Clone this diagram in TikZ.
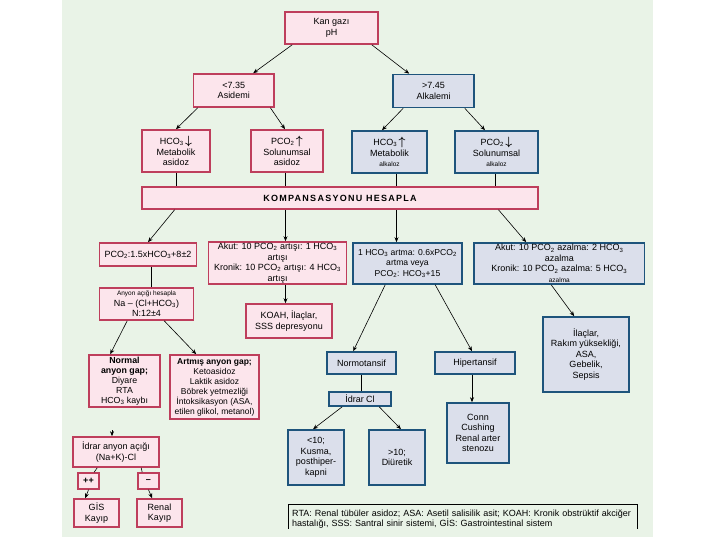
\documentclass[tikz,border=0pt]{standalone}
\usepackage{fontspec}
\setmainfont{Liberation Sans}
\usetikzlibrary{arrows.meta}
\definecolor{bgc}{RGB}{233,243,231}
\definecolor{pinkfill}{RGB}{252,229,236}
\definecolor{redline}{RGB}{190,62,92}
\definecolor{bluefill}{RGB}{219,223,235}
\definecolor{blueline}{RGB}{30,84,124}
\newcommand{\lo}[1]{\textsubscript{#1}}
\newcommand{\dnarr}{\,{\fontsize{12}{9}\selectfont\boldmath$\downarrow$}}
\newcommand{\uparr}{\,{\fontsize{12}{9}\selectfont\boldmath$\uparrow$}}
\newcommand{\smt}[1]{{\fontsize{6.5}{8}\selectfont #1}}
\tikzset{
  box/.style={draw, line width=1.6pt, align=center, inner sep=1pt, anchor=center,
    font=\fontsize{9}{10.5}\selectfont},
  rb/.style={box, draw=redline, fill=pinkfill},
  bb/.style={box, draw=blueline, fill=bluefill},
  sz/.style 2 args={minimum width=#1, minimum height=#2},
  conn/.style={-{Stealth[length=5pt,width=4pt]}, line width=0.6pt},
  plain/.style={line width=0.6pt},
}
\begin{document}
\begin{tikzpicture}[x=1pt,y=-1pt]
\useasboundingbox (0,0) rectangle (720,540);
\fill[bgc] (62,0) rectangle (653,537);

% level 1-3
\node[rb, sz={93pt}{32pt}] (kan) at (331.5,28) {Kan gazı\\pH};
\node[rb, sz={80.5pt}{33pt}] (asid) at (233.75,90.5) {<7.35\\Asidemi};
\node[bb, sz={81pt}{33pt}] (alk) at (433.5,91) {>7.45\\Alkalemi};
\node[rb, sz={68pt}{42pt}] (metas) at (176,151) {HCO\lo{3}\dnarr\\Metabolik\\asidoz};
\node[rb, sz={71.5pt}{42pt}] (solas) at (287,151) {PCO\lo{2}\uparr\\Solunumsal\\asidoz};
\node[bb, sz={75pt}{42pt}] (metal) at (389.5,152) {HCO\lo{3}\uparr\\Metabolik\\\smt{alkaloz}};
\node[bb, sz={83pt}{42pt}] (solal) at (496.5,152) {PCO\lo{2}\dnarr\\Solunumsal\\\smt{alkaloz}};

\node[rb, sz={396pt}{22pt}, font=\fontsize{9}{10}\selectfont\bfseries\addfontfeature{LetterSpace=14}] (komp) at (340,198) {KOMPANSASYONU HESAPLA};

% compensation boxes
\node[rb, sz={97pt}{23pt}] (pco) at (148,254.5) {PCO\lo{2}:1.5xHCO\lo{3}+8±2};
\node[rb, sz={138pt}{42pt}] (akut1) at (277.5,263) {Akut: 10 PCO\lo{2} artışı: 1 HCO\lo{3}\\artışı\\Kronik: 10 PCO\lo{2} artışı: 4 HCO\lo{3}\\artışı};
\node[bb, sz={109pt}{41pt}, font=\fontsize{8.6}{10.5}\selectfont] (hco1) at (407.5,263.5) {1 HCO\lo{3} artma: 0.6xPCO\lo{2}\\artma veya\\PCO\lo{2}: HCO\lo{3}+15};
\node[bb, sz={170.6pt}{41pt}] (akut2) at (559.3,263.5) {Akut: 10 PCO\lo{2} azalma: 2 HCO\lo{3}\\azalma\\Kronik: 10 PCO\lo{2} azalma: 5 HCO\lo{3}\\\smt{azalma}};

\node[rb, sz={94pt}{32pt}] (anyon) at (146.5,304) {\smt{Anyon açığı hesapla}\\Na -- (Cl+HCO\lo{3})\\N:12±4};
\node[rb, sz={86pt}{34pt}] (koah) at (289,321) {KOAH, İlaçlar,\\SSS depresyonu};
\node[bb, sz={86pt}{75pt}] (ilac) at (586,354.5) {İlaçlar,\\Rakım yüksekliği,\\ASA,\\Gebelik,\\Sepsis};

\node[rb, sz={71pt}{52pt}, font=\fontsize{8.8}{10}\selectfont] (normal) at (124.5,381) {\textbf{Normal}\\\textbf{anyon gap;}\\Diyare\\RTA\\HCO\lo{3} kaybı};
\node[rb, sz={89pt}{64pt}, font=\fontsize{8.5}{10}\selectfont] (artmis) at (214.5,387) {\textbf{Artmış anyon gap;}\\Ketoasidoz\\Laktik asidoz\\Böbrek yetmezliği\\İntoksikasyon (ASA,\\etilen glikol, metanol)};

\node[rb, sz={86pt}{30pt}] (idrar) at (116,452) {İdrar anyon açığı\\(Na+K)-Cl};
\node[rb, sz={21pt}{16pt}, font=\fontsize{9}{9}\selectfont\bfseries] (pp) at (88.5,481) {++};
\node[rb, sz={21pt}{16pt}, font=\fontsize{9}{9}\selectfont\bfseries] (mm) at (148.5,481) {--};
\node[rb, sz={45pt}{28pt}] (gis) at (96.5,513) {GİS\\Kayıp};
\node[rb, sz={45pt}{28pt}] (renal) at (159.5,513) {Renal\\Kayıp};

\node[bb, sz={69pt}{22pt}] (normo) at (361.5,363) {Normotansif};
\node[bb, sz={80pt}{22pt}] (hiper) at (475,363) {Hipertansif};
\node[bb, sz={62pt}{14pt}] (idcl) at (360,399) {İdrar Cl};
\node[bb, sz={56pt}{55pt}] (lt10) at (316,457.5) {<10;\\Kusma,\\posthiper-\\kapni};
\node[bb, sz={56pt}{55pt}] (gt10) at (397,457.5) {>10;\\Diüretik};
\node[bb, sz={62pt}{60pt}] (cush) at (478,433) {Conn\\Cushing\\Renal arter\\stenozu};

% footnote (cut off at the bottom)
\begin{scope}
\clip (280,500) rectangle (645,528);
\node[anchor=north west, text width=341pt, align=left, inner xsep=4pt, inner ysep=5.5pt,
  font=\fontsize{9}{10}\selectfont] (foot) at (288,504)
  {RTA: Renal tübüler asidoz; ASA: Asetil salisilik asit; KOAH: Kronik obstrüktif akciğer\\hastalığı, SSS: Santral sinir sistemi, GİS: Gastrointestinal sistem};
\draw[line width=0.9pt] (foot.north west) rectangle ([yshift=-40pt]foot.north east);
\end{scope}

% connectors
\draw[conn] ([xshift=8pt]kan.south west) -- ([xshift=60.5pt]asid.north west);
\draw[conn] ([xshift=-7pt]kan.south east) -- ([xshift=17pt]alk.north west);
\draw[conn] ([xshift=5pt]asid.south west) -- (metas.north);
\draw[conn] ([xshift=-4.4pt]asid.south east) -- ([xshift=-2pt]solas.north);
\draw[conn] ([xshift=11pt]alk.south west) -- ([xshift=-7.5pt]metal.north);
\draw[conn] ([xshift=-10pt]alk.south east) -- ([xshift=-11.5pt]solal.north);

\draw[plain] (metas.south) -- (metas.south |- komp.north);
\draw[plain] ([xshift=-2pt]solas.south) -- ([xshift=-2pt]solas.south |- komp.north);
\draw[plain] ([xshift=7pt]metal.south) -- ([xshift=7pt]metal.south |- komp.north);
\draw[plain] ([xshift=-1.5pt]solal.south) -- ([xshift=-1.5pt]solal.south |- komp.north);

\draw[conn] ([xshift=33.4pt]komp.south west) -- (pco.north);
\draw[conn] ([xshift=8pt]akut1.north |- komp.south) -- ([xshift=8pt]akut1.north);
\draw[conn] ([xshift=-11pt]hco1.north |- komp.south) -- ([xshift=-11pt]hco1.north);
\draw[conn] ([xshift=-40.3pt]komp.south east) -- ([xshift=53pt]akut2.north west);

\draw[plain] ([xshift=3.5pt]pco.south) -- ([xshift=3.5pt]pco.south |- anyon.north);
\draw[conn] ([xshift=8pt]akut1.south) -- ([xshift=8pt]akut1.south |- koah.north);
\draw[conn] ([xshift=28.5pt]anyon.south west) -- ([xshift=22pt]normal.north west);
\draw[conn] ([xshift=65.5pt]anyon.south west) -- ([xshift=27pt]artmis.north west);

\coordinate (ny) at (112,430);
\draw[conn] (ny) -- ([xshift=-4pt]idrar.north);
\draw[plain] ([xshift=25pt]idrar.south west) -- ([xshift=17pt]pp.north west);
\draw[plain] ([xshift=69pt]idrar.south west) -- ([xshift=5pt]mm.north west);
\draw[conn] (pp.south) -- ([xshift=12pt]gis.north west);
\draw[conn] (mm.south) -- ([xshift=16pt]renal.north west);

\draw[conn] ([xshift=33pt]hco1.south west) -- ([xshift=27pt]normo.north west);
\draw[conn] ([xshift=83pt]hco1.south west) -- ([xshift=-3pt]hiper.north);
\draw[plain] (normo.south) -- (normo.south |- idcl.north);
\draw[conn] ([xshift=14pt]idcl.south west) -- ([xshift=-3pt]lt10.north);
\draw[conn] ([xshift=51pt]idcl.south west) -- ([xshift=4pt]gt10.north);
\draw[conn] ([xshift=-3pt]hiper.south) -- ([xshift=-3pt]hiper.south |- cush.north);
\draw[conn] ([xshift=78pt]akut2.south west) -- ([xshift=32pt]ilac.north west);
\end{tikzpicture}
\end{document}
